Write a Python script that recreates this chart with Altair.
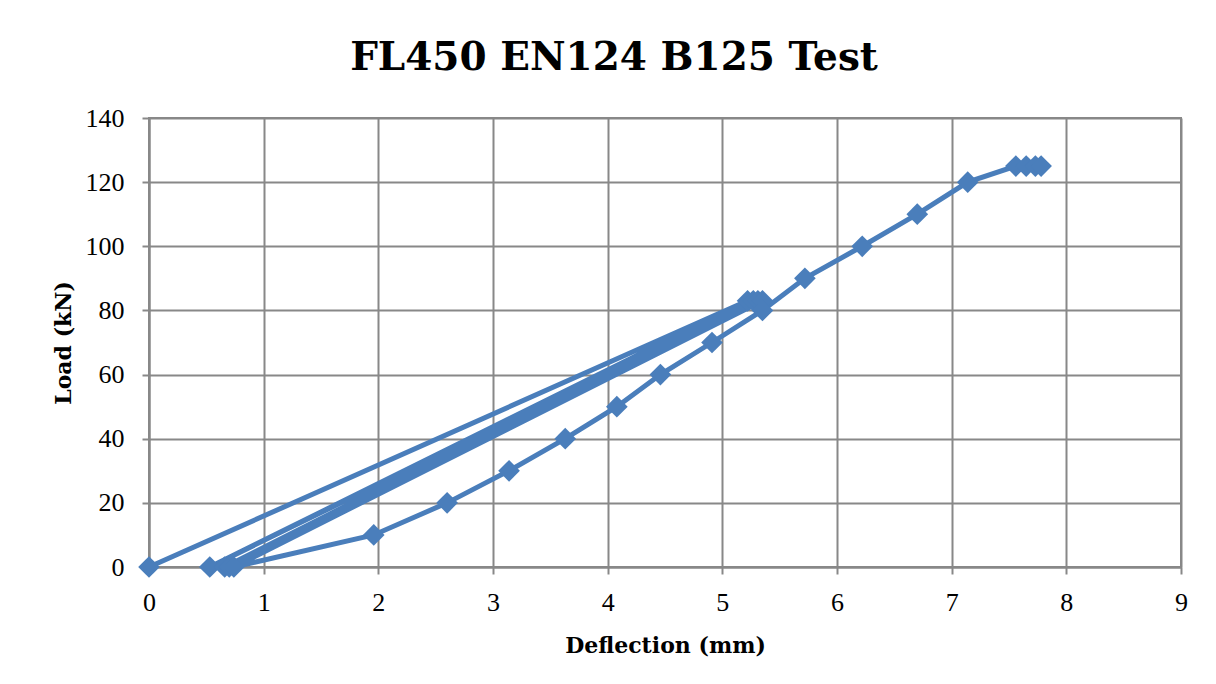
import altair as alt
import pandas as pd

# Loading sequence (cyclic pre-loading then test to 125 kN)
deflection = [0.00, 5.22, 0.53, 5.27, 0.66, 5.31, 0.70, 5.35, 0.74,
              1.96, 2.60, 3.14, 3.63, 4.08, 4.46, 4.91, 5.35, 5.72,
              6.22, 6.70, 7.14, 7.56, 7.65, 7.73, 7.78]
load = [0, 83, 0, 83, 0, 83, 0, 83, 0,
        10, 20, 30, 40, 50, 60, 70, 80, 90,
        100, 110, 120, 125, 125, 125, 125]
x_ticks = [0, 1, 2, 3, 4, 5, 6, 7, 8, 9]
y_ticks = [0, 20, 40, 60, 80, 100, 120, 140]

df = pd.DataFrame({"step": list(range(len(deflection))),
                   "deflection": deflection, "load": load})

blue = "#4A7EBB"
grey = "#888888"
label_font = "Liberation Serif"
title_font = "DejaVu Serif"

chart = alt.Chart(df).mark_line(
    color=blue, strokeWidth=5,
    point=alt.OverlayMarkDef(shape="diamond", filled=True, size=470,
                             color=blue, opacity=1)
).encode(
    x=alt.X("deflection:Q",
            scale=alt.Scale(domain=[0, 9], nice=False, zero=True),
            axis=alt.Axis(title="Deflection (mm)", values=x_ticks,
                          labelFlush=False, labelPadding=15, titlePadding=20)),
    y=alt.Y("load:Q",
            scale=alt.Scale(domain=[0, 140], nice=False),
            axis=alt.Axis(title="Load (kN)", values=y_ticks,
                          labelFlush=False, labelPadding=18, titlePadding=10)),
    order=alt.Order("step:Q"),
).properties(
    width=1032, height=449,
    autosize="none",
    padding={"left": 141, "top": 110, "right": 20, "bottom": 100},
    title=alt.Title("FL450 EN124 B125 Test", font=title_font, fontSize=39,
                    fontWeight="bold", color="black", anchor="middle",
                    frame="group", dx=-51, offset=27),
).configure_axis(
    grid=True, gridColor=grey, gridWidth=2, gridOpacity=1,
    domainColor=grey, domainWidth=2,
    tickColor=grey, tickWidth=2, tickSize=7,
    labelFont=label_font, labelFontSize=26, labelColor="black",
    titleFont=title_font, titleFontSize=22, titleFontWeight="bold",
    titleColor="black",
).configure_view(stroke=grey, strokeWidth=2)

chart.save("out.html", embed_options={"renderer": "svg", "actions": False})
